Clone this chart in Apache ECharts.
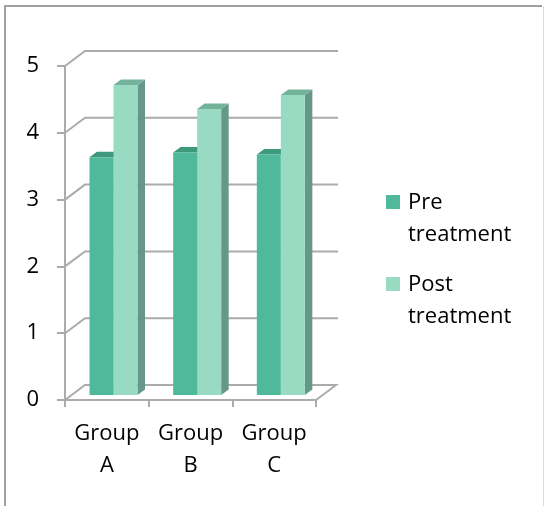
<!DOCTYPE html>
<html>
<head>
<meta charset="utf-8">
<script src="https://cdn.jsdelivr.net/npm/echarts@6/dist/echarts.min.js"></script>
<style>
  html, body { margin: 0; padding: 0; background: #ffffff; }
  #chart { width: 544px; height: 506px; }
</style>
</head>
<body>
<div id="chart"></div>
<script>
// Chart data
const categories = ['Group A', 'Group B', 'Group C'];
const seriesNames = ['Pre treatment', 'Post treatment'];
const preTreatment = [3.56, 3.63, 3.60];
const postTreatment = [4.64, 4.28, 4.49];
const yTicks = [0, 1, 2, 3, 4, 5];

// Pseudo-3D projection: back wall offset and bar depth (pixels)
const WALL_DX = 20, WALL_DY = -15;
const BAR_DX = 7.5, BAR_DY = -5.5;
const BAR_FRAC = 0.287;

const FONT = '"Open Sans", "Noto Sans", sans-serif';
const TEXT_COLOR = '#000000';
const GRID_COLOR = '#ababab';

const palette = [
  { front: '#51b99b', top: '#3d987c', side: '#3a8770' },
  { front: '#98dac2', top: '#74b39b', side: '#66978a' }
];

const chart = echarts.init(document.getElementById('chart'), null, { renderer: 'canvas' });

// Back wall gridlines with their diagonal connectors to the front axis
function renderWall(params, api) {
  const v = api.value(1);
  const y = api.coord([0, v])[1];
  const cs = params.coordSys;
  const x0 = cs.x, x1 = cs.x + cs.width;
  let pts;
  if (v === 0) {
    pts = [[x0, y], [x0 + WALL_DX, y + WALL_DY], [x1 + WALL_DX, y + WALL_DY], [x1, y]];
  } else {
    pts = [[x0, y], [x0 + WALL_DX, y + WALL_DY], [x1 + WALL_DX + 2, y + WALL_DY]];
  }
  return {
    type: 'polyline',
    shape: { points: pts },
    style: { stroke: GRID_COLOR, lineWidth: 2, fill: null }
  };
}

// 3D-looking column: front face, top face and right side face
function makeBarRenderer(slot) {
  const col = palette[slot];
  return function (params, api) {
    const i = api.value(0), v = api.value(1);
    const top = api.coord([i, v]);
    const bot = api.coord([i, 0]);
    const band = api.size([1, 0])[0];
    const w = band * BAR_FRAC;
    const dx = WALL_DX / 3, dy = WALL_DY / 3;
    const xl = top[0] + dx + (slot === 0 ? -w : 0);
    const xr = xl + w;
    const yt = top[1] + dy, yb = bot[1] + dy;
    return {
      type: 'group',
      children: [
        {
          type: 'polygon',
          shape: { points: [[xr, yt], [xr + BAR_DX, yt + BAR_DY], [xr + BAR_DX, yb + BAR_DY], [xr, yb]] },
          style: { fill: col.side }
        },
        {
          type: 'polygon',
          shape: { points: [[xl, yt], [xr, yt], [xr + BAR_DX, yt + BAR_DY], [xl + BAR_DX, yt + BAR_DY]] },
          style: { fill: col.top }
        },
        {
          type: 'rect',
          shape: { x: xl, y: yt, width: w, height: yb - yt },
          style: { fill: col.front }
        }
      ]
    };
  };
}

const legendItems = [];
seriesNames.forEach(function (name, k) {
  const top = k === 0 ? 195 : 277;
  legendItems.push({
    type: 'rect',
    shape: { x: 386, y: top, width: 14, height: 14 },
    style: { fill: palette[k].front }
  });
  legendItems.push({
    type: 'text',
    left: 408,
    top: top - 8,
    style: {
      text: name.replace(' ', '\n'),
      font: '22px ' + FONT,
      fill: TEXT_COLOR,
      lineHeight: 32
    }
  });
});

const option = {
  animation: false,
  backgroundColor: '#ffffff',
  grid: { left: 65, top: 66, width: 251, height: 334, containLabel: false },
  xAxis: {
    type: 'category',
    data: categories,
    boundaryGap: true,
    axisLine: { show: true, lineStyle: { color: GRID_COLOR, width: 2 } },
    axisTick: { show: true, length: 7, lineStyle: { color: GRID_COLOR, width: 2 } },
    axisLabel: {
      interval: 0,
      margin: 18,
      fontFamily: FONT,
      fontSize: 22,
      color: TEXT_COLOR,
      lineHeight: 32,
      formatter: function (s) { return s.replace(' ', '\n'); }
    },
    splitLine: { show: false }
  },
  yAxis: {
    type: 'value',
    min: yTicks[0],
    max: yTicks[yTicks.length - 1],
    interval: 1,
    axisLine: { show: true, lineStyle: { color: GRID_COLOR, width: 2 } },
    axisTick: { show: true, length: 8, lineStyle: { color: GRID_COLOR, width: 2 } },
    axisLabel: { margin: 26, fontFamily: FONT, fontSize: 22, color: TEXT_COLOR },
    splitLine: { show: false }
  },
  graphic: [
    {
      type: 'polyline',
      shape: { points: [[5, 506], [5, 6], [542, 6]] },
      style: { stroke: '#a0a0a0', lineWidth: 2, fill: null },
      silent: true
    },
    {
      type: 'line',
      shape: { x1: 543.5, y1: 6, x2: 543.5, y2: 506 },
      style: { stroke: '#dcdcdc', lineWidth: 1 },
      silent: true
    }
  ].concat(legendItems),
  series: [
    {
      type: 'custom',
      name: 'wall',
      renderItem: renderWall,
      data: yTicks.map(function (v) { return [0, v]; }),
      encode: { x: 0, y: 1 },
      clip: false,
      z: 1,
      silent: true
    },
    {
      type: 'custom',
      name: seriesNames[0],
      renderItem: makeBarRenderer(0),
      data: preTreatment.map(function (v, i) { return [i, v]; }),
      encode: { x: 0, y: 1 },
      clip: false,
      z: 2
    },
    {
      type: 'custom',
      name: seriesNames[1],
      renderItem: makeBarRenderer(1),
      data: postTreatment.map(function (v, i) { return [i, v]; }),
      encode: { x: 0, y: 1 },
      clip: false,
      z: 3
    }
  ]
};

chart.setOption(option);
</script>
</body>
</html>
